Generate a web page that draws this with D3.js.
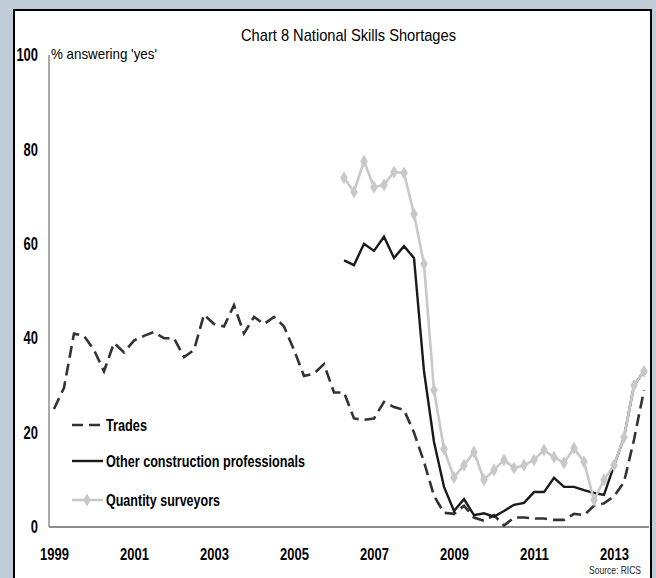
<!DOCTYPE html>
<html>
<head>
<meta charset="utf-8">
<script src="https://cdn.jsdelivr.net/npm/d3@7"></script>
<style>
  body { margin: 0; background: #c0cdd8; }
  svg { display: block; }
  text { font-family: "Liberation Sans Narrow", "Arial Narrow", "Liberation Sans", Arial, sans-serif; }
</style>
</head>
<body>
<svg id="chart" width="656" height="578"></svg>
<script>
// ---- data (quarterly, 1999 Q1 .. 2013 Q4) ----
const startYear = 1999;
const nQuarters = 60;
const quarters = d3.range(nQuarters).map(i => (startYear + Math.floor(i / 4)) + "Q" + (i % 4 + 1));

const trades = [
  25, 29.5, 41, 40.5, 37.5, 33, 39, 37,
  39.5, 40.5, 41.3, 40, 40, 36, 37.5, 45,
  43, 42.5, 47, 41, 44.5, 43, 44.5, 42.5,
  37.5, 32, 32.5, 34.5, 28.5, 28.5, 23, 22.7,
  23, 26.5, 25.4, 24.8, 20, 13.8, 6.6, 3,
  2.8, 4.5, 2, 1.3, 2.5, 0.3, 2, 2,
  1.8, 1.8, 1.5, 1.5, 2.8, 2.5, 4.5, 5,
  6.5, 9.5, 18.5, 29
];
// Other construction professionals start 2006 Q2 (index 29)
const otherProfessionals = [
  null, null, null, null, null, null, null, null,
  null, null, null, null, null, null, null, null,
  null, null, null, null, null, null, null, null,
  null, null, null, null, null, 56.5, 55.5, 60,
  58.5, 61.5, 57, 59.5, 57, 33, 18, 8.5,
  3.4, 5.9, 2.5, 2.9, 2.2, 3.4, 4.7, 5.1,
  7.4, 7.4, 10.4, 8.5, 8.5, 7.8, 7.2, 6.8,
  13, 19, 30, 33
];
const quantitySurveyors = [
  null, null, null, null, null, null, null, null,
  null, null, null, null, null, null, null, null,
  null, null, null, null, null, null, null, null,
  null, null, null, null, null, 74, 71, 77.5,
  72, 72.5, 75.2, 75, 66.3, 55.7, 29, 16.5,
  10.5, 13.1, 15.9, 10, 12.1, 14.2, 12.5, 13.1,
  14.2, 16.3, 14.8, 13.6, 16.7, 13.8, 5.7, 10,
  13.1, 19, 30, 33
];
const xTickLabels = ["1999", "2001", "2003", "2005", "2007", "2009", "2011", "2013"];
const yTicks = [0, 20, 40, 60, 80, 100];
const seriesNames = ["Trades", "Other construction professionals", "Quantity surveyors"];

// ---- drawing ----
const svg = d3.select("#chart");
svg.append("rect").attr("x", 0).attr("y", 0).attr("width", 656).attr("height", 578).attr("fill", "#c0cdd8");
svg.append("rect").attr("x", 14).attr("y", 10).attr("width", 637).attr("height", 572)
  .attr("fill", "#ffffff").attr("stroke", "#000000").attr("stroke-width", 2);

const x = d3.scalePoint().domain(quarters).range([49, 649]).padding(0.5);
const y = d3.scaleLinear().domain([0, 100]).range([527, 55]);

// width per digit of the condensed bold numerals
const digitW = 7.2;
function squeeze(sel, w) {
  sel.attr("textLength", w).attr("lengthAdjust", "spacingAndGlyphs");
}

// axes
const yAxis = svg.append("g").attr("transform", "translate(49,0)")
  .call(d3.axisLeft(y).tickValues(yTicks).tickSize(0).tickFormat(d3.format("d")));
yAxis.select(".domain").attr("stroke", "#8c8c8c").attr("stroke-width", 1.5).attr("d", "M0," + y(100) + "V" + y(0));
yAxis.selectAll("text").attr("x", -11).attr("font-size", 18).attr("font-weight", "bold").attr("fill", "#000")
  .each(function (d) { squeeze(d3.select(this), String(d).length * digitW); });

const xAxis = svg.append("g").attr("transform", "translate(0,527)")
  .call(d3.axisBottom(x).tickValues(xTickLabels.map(l => l + "Q1")).tickSize(0).tickFormat(d => d.slice(0, 4)));
xAxis.select(".domain").attr("stroke", "#8c8c8c").attr("stroke-width", 2).attr("d", "M49,0H649");
xAxis.selectAll("text").attr("y", 21).attr("font-size", 17).attr("font-weight", "bold").attr("fill", "#000")
  .each(function () { squeeze(d3.select(this), 4 * digitW); });

// title and labels
squeeze(svg.append("text").attr("x", 241).attr("y", 41)
  .attr("font-size", 17).attr("fill", "#000").text("Chart 8 National Skills Shortages"), 215);
squeeze(svg.append("text").attr("x", 51).attr("y", 59).attr("font-size", 15).attr("fill", "#000")
  .text("% answering 'yes'"), 106);
squeeze(svg.append("text").attr("x", 589).attr("y", 574)
  .attr("font-size", 11).attr("fill", "#222").text("Source: RICS"), 52);

// lines
const line = d3.line().defined(d => d.v != null).x(d => x(d.q)).y(d => y(d.v));
const toPts = arr => arr.map((v, i) => ({ q: quarters[i], v }));

svg.append("path").datum(toPts(trades)).attr("d", line)
  .attr("fill", "none").attr("stroke", "#333333").attr("stroke-width", 2.6)
  .attr("stroke-dasharray", "12,6");
svg.append("path").datum(toPts(otherProfessionals)).attr("d", line)
  .attr("fill", "none").attr("stroke", "#1a1a1a").attr("stroke-width", 2.4);
svg.append("path").datum(toPts(quantitySurveyors)).attr("d", line)
  .attr("fill", "none").attr("stroke", "#c8c8c8").attr("stroke-width", 2.6);
const diamond = d3.symbol().type(d3.symbolDiamond).size(50);
svg.append("g").selectAll("path").data(toPts(quantitySurveyors).filter(d => d.v != null))
  .join("path").attr("d", diamond)
  .attr("transform", d => "translate(" + x(d.q) + "," + y(d.v) + ")")
  .attr("fill", "#c8c8c8");

// legend
const legendY = [425, 461, 500];
const legendW = [41, 199, 114];
const lg = svg.append("g");
lg.append("path").attr("d", "M72," + legendY[0] + "H103").attr("stroke", "#333333")
  .attr("stroke-width", 2.6).attr("stroke-dasharray", "11,6");
lg.append("path").attr("d", "M72," + legendY[1] + "H103").attr("stroke", "#1a1a1a").attr("stroke-width", 2.4);
lg.append("path").attr("d", "M72," + legendY[2] + "H103").attr("stroke", "#c8c8c8").attr("stroke-width", 2.6);
lg.append("path").attr("d", diamond).attr("transform", "translate(87," + legendY[2] + ")").attr("fill", "#c8c8c8");
seriesNames.forEach((n, i) => {
  squeeze(lg.append("text").attr("x", 106).attr("y", legendY[i]).attr("dy", "0.35em")
    .attr("font-size", 17).attr("font-weight", "bold").attr("fill", "#000").text(n), legendW[i]);
});
</script>
</body>
</html>
